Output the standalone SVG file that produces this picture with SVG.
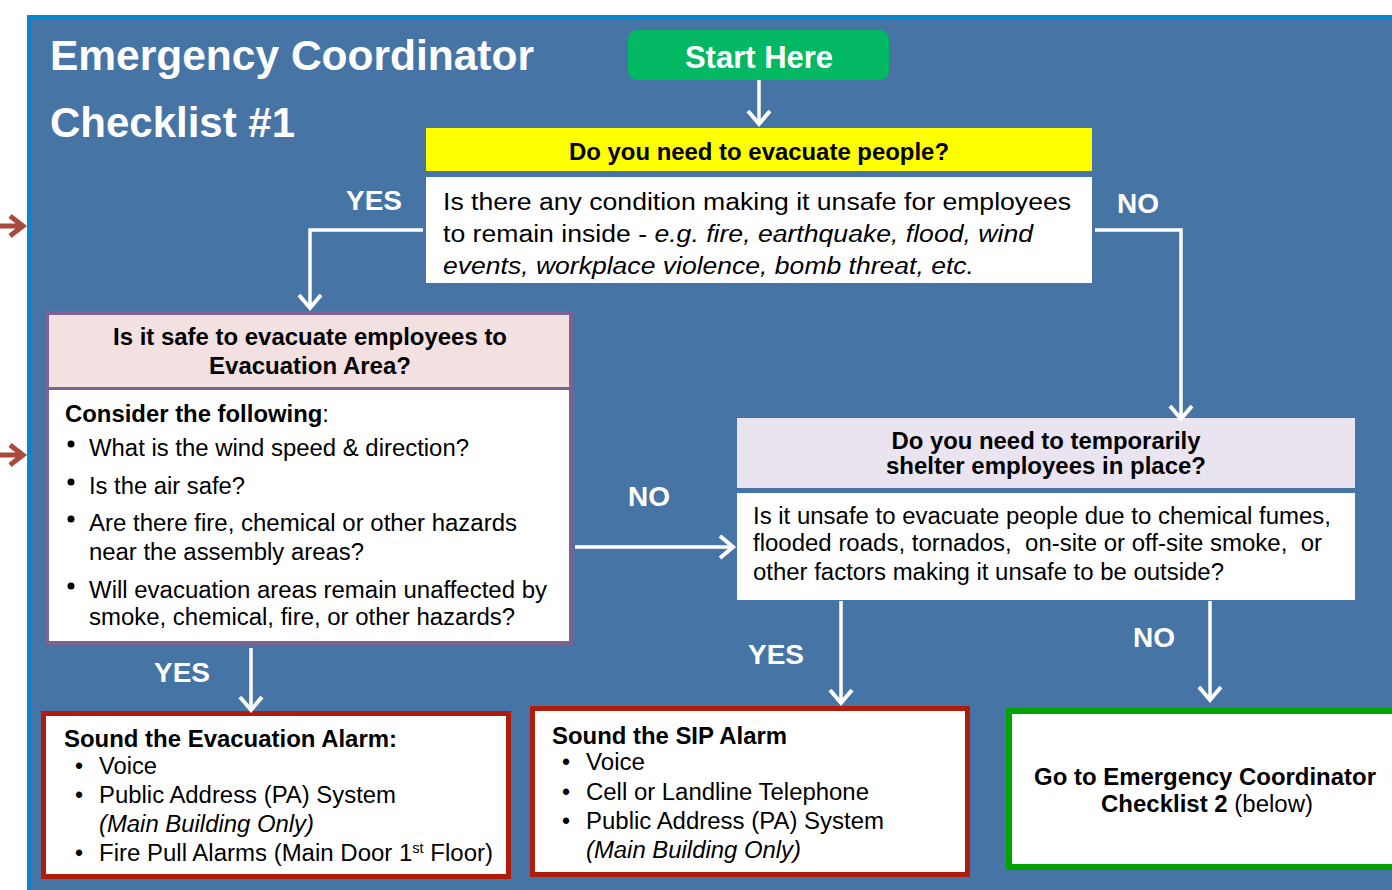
<svg xmlns="http://www.w3.org/2000/svg" width="1392" height="890" viewBox="0 0 1392 890">
<defs>
<style>
text{font-family:"Liberation Sans",Arial,sans-serif}
.t{fill:#fff;font-weight:bold}
.lbl{fill:#fff;font-weight:bold;font-size:28px}
.hd{font-weight:bold;font-size:23px;fill:#000;text-anchor:middle}
.b{font-size:23px;fill:#000}
.bb{font-size:23px;fill:#000;font-weight:bold}
.conn{fill:none;stroke:#fff;stroke-width:3.5}
.red{fill:none;stroke:#a84a3e;stroke-width:5}
</style>
<marker id="ah" markerUnits="userSpaceOnUse" markerWidth="26" markerHeight="26" viewBox="0 0 26 26" refX="22" refY="13" orient="auto">
<path d="M9,2 L22,13 L9,24" fill="none" stroke="#fff" stroke-width="4"/>
</marker>
</defs>
<rect x="0" y="0" width="1392" height="890" fill="#fff"/>
<rect id="panel" x="29" y="17" width="1400" height="900" fill="#4674a4" stroke="#0b85cd" stroke-width="4"/>

<g id="side-arrows">
<path class="red" d="M0,226 H22 M10,216 L23,226 L10,236"/>
<path class="red" d="M0,455 H22 M10,445 L23,455 L10,465"/>
</g>

<g id="title">
<text class="t" x="50" y="70" font-size="42" textLength="484" lengthAdjust="spacingAndGlyphs">Emergency Coordinator</text>
<text class="t" x="50" y="137" font-size="42" textLength="245" lengthAdjust="spacingAndGlyphs">Checklist #1</text>
</g>

<g id="start">
<rect x="628" y="30" width="261" height="50" rx="9" fill="#02b863"/>
<text class="t" x="759" y="68" font-size="31" text-anchor="middle">Start Here</text>
</g>

<g id="evacuate">
<rect x="426" y="128" width="666" height="43" fill="#ffff00"/>
<text class="hd" x="759" y="160" textLength="380" lengthAdjust="spacingAndGlyphs">Do you need to evacuate people?</text>
<rect x="426" y="177" width="666" height="106" fill="#fff"/>
<text class="b" x="443" y="210" font-size="26" textLength="628" lengthAdjust="spacingAndGlyphs">Is there any condition making it unsafe for employees</text>
<text class="b" x="443" y="242" font-size="26" textLength="590" lengthAdjust="spacingAndGlyphs">to remain inside - <tspan font-style="italic">e.g. fire, earthquake, flood, wind</tspan></text>
<text class="b" x="443" y="274" font-size="26" font-style="italic" textLength="531" lengthAdjust="spacingAndGlyphs">events, workplace violence, bomb threat, etc.</text>
</g>

<g id="safe">
<rect x="47" y="313" width="524" height="330" fill="#fff" stroke="#7a6393" stroke-width="4"/>
<rect x="49" y="315" width="520" height="72" fill="#f3e0e0"/>
<line x1="47" y1="388.5" x2="571" y2="388.5" stroke="#7a6393" stroke-width="3"/>
<text class="hd" x="310" y="345" textLength="394" lengthAdjust="spacingAndGlyphs">Is it safe to evacuate employees to</text>
<text class="hd" x="310" y="374" textLength="202" lengthAdjust="spacingAndGlyphs">Evacuation Area?</text>
<text class="bb" x="65" y="422" textLength="264" lengthAdjust="spacingAndGlyphs">Consider the following<tspan font-weight="normal">:</tspan></text>
<g fill="#000">
<circle cx="71" cy="444" r="3.5"/>
<circle cx="71" cy="482" r="3.5"/>
<circle cx="71" cy="519" r="3.5"/>
<circle cx="71" cy="586" r="3.5"/>
</g>
<text class="b" x="89" y="456" textLength="380" lengthAdjust="spacingAndGlyphs">What is the wind speed &amp; direction?</text>
<text class="b" x="89" y="494" textLength="156" lengthAdjust="spacingAndGlyphs">Is the air safe?</text>
<text class="b" x="89" y="531" textLength="428" lengthAdjust="spacingAndGlyphs">Are there fire, chemical or other hazards</text>
<text class="b" x="89" y="560" textLength="275" lengthAdjust="spacingAndGlyphs">near the assembly areas?</text>
<text class="b" x="89" y="598" textLength="458" lengthAdjust="spacingAndGlyphs">Will evacuation areas remain unaffected by</text>
<text class="b" x="89" y="625" textLength="426" lengthAdjust="spacingAndGlyphs">smoke, chemical, fire, or other hazards?</text>
</g>

<g id="shelter">
<rect x="737" y="418" width="618" height="70" fill="#e9e4ef"/>
<text class="hd" x="1046" y="449" textLength="309" lengthAdjust="spacingAndGlyphs">Do you need to temporarily</text>
<text class="hd" x="1046" y="474" textLength="320" lengthAdjust="spacingAndGlyphs">shelter employees in place?</text>
<rect x="737" y="493" width="618" height="107" fill="#fff"/>
<text class="b" x="753" y="524" textLength="578" lengthAdjust="spacingAndGlyphs">Is it unsafe to evacuate people due to chemical fumes,</text>
<text class="b" x="753" y="551" textLength="569" lengthAdjust="spacingAndGlyphs" xml:space="preserve">flooded roads, tornados,  on-site or off-site smoke,  or</text>
<text class="b" x="753" y="580" textLength="471" lengthAdjust="spacingAndGlyphs">other factors making it unsafe to be outside?</text>
</g>

<g id="evac-alarm">
<rect x="43.5" y="713.5" width="465" height="163" fill="#fff" stroke="#b01c0c" stroke-width="5"/>
<text class="bb" x="64" y="747" textLength="333" lengthAdjust="spacingAndGlyphs">Sound the Evacuation Alarm:</text>
<text class="b" x="75" y="774">•</text>
<text class="b" x="75" y="803">•</text>
<text class="b" x="75" y="861">•</text>
<text class="b" x="99" y="774" textLength="58" lengthAdjust="spacingAndGlyphs">Voice</text>
<text class="b" x="99" y="803" textLength="297" lengthAdjust="spacingAndGlyphs">Public Address (PA) System</text>
<text class="b" x="99" y="832" font-style="italic" textLength="215" lengthAdjust="spacingAndGlyphs">(Main Building Only)</text>
<text class="b" x="99" y="861" textLength="394" lengthAdjust="spacingAndGlyphs">Fire Pull Alarms (Main Door 1<tspan font-size="14" dy="-8">st</tspan><tspan dy="8"> Floor)</tspan></text>
</g>

<g id="sip-alarm">
<rect x="532.5" y="708.5" width="435" height="166" fill="#fff" stroke="#b01c0c" stroke-width="5"/>
<text class="bb" x="552" y="744" textLength="235" lengthAdjust="spacingAndGlyphs">Sound the SIP Alarm</text>
<text class="b" x="562" y="770">•</text>
<text class="b" x="562" y="800">•</text>
<text class="b" x="562" y="829">•</text>
<text class="b" x="586" y="770" textLength="59" lengthAdjust="spacingAndGlyphs">Voice</text>
<text class="b" x="586" y="800" textLength="283" lengthAdjust="spacingAndGlyphs">Cell or Landline Telephone</text>
<text class="b" x="586" y="829" textLength="298" lengthAdjust="spacingAndGlyphs">Public Address (PA) System</text>
<text class="b" x="586" y="858" font-style="italic" textLength="215" lengthAdjust="spacingAndGlyphs">(Main Building Only)</text>
</g>

<g id="checklist2">
<rect x="1009" y="711" width="400" height="156" fill="#fff" stroke="#00a300" stroke-width="6"/>
<text class="hd" x="1205" y="785" textLength="342" lengthAdjust="spacingAndGlyphs">Go to Emergency Coordinator</text>
<text class="hd" x="1207" y="812" textLength="212" lengthAdjust="spacingAndGlyphs">Checklist 2 <tspan font-weight="normal">(below)</tspan></text>
</g>

<g id="connectors">
<path class="conn" d="M759,80 V124" marker-end="url(#ah)"/>
<path class="conn" d="M423,230 H310 V308" marker-end="url(#ah)"/>
<path class="conn" d="M1095,230 H1181 V419" marker-end="url(#ah)"/>
<path class="conn" d="M575,547 H733" marker-end="url(#ah)"/>
<path class="conn" d="M251,648 V710" marker-end="url(#ah)"/>
<path class="conn" d="M841,601 V703" marker-end="url(#ah)"/>
<path class="conn" d="M1210,601 V700" marker-end="url(#ah)"/>
</g>

<g id="labels">
<text class="lbl" x="346" y="210">YES</text>
<text class="lbl" x="1117" y="213">NO</text>
<text class="lbl" x="628" y="506">NO</text>
<text class="lbl" x="154" y="682">YES</text>
<text class="lbl" x="748" y="664">YES</text>
<text class="lbl" x="1133" y="647">NO</text>
</g>
</svg>
